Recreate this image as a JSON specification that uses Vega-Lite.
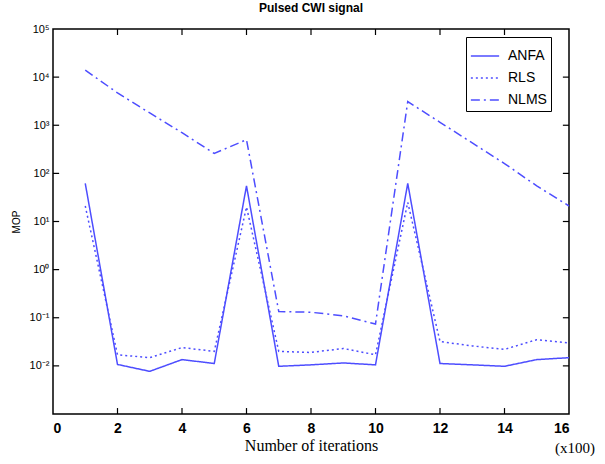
{
  "$schema": "https://vega.github.io/schema/vega-lite/v6.json",
  "width": 516,
  "height": 385,
  "autosize": {"type": "none"},
  "padding": {"left": 53, "top": 29, "right": 36, "bottom": 50},
  "background": "white",
  "title": {"text": "Pulsed CWI signal", "font": "Liberation Sans", "fontSize": 12, "fontWeight": "bold", "offset": 8, "anchor": "middle", "color": "black"},
  "config": {"view": {"stroke": "black", "strokeWidth": 1.5}},
  "datasets": {
    "d": [
      {"it": 1, "s": "ANFA", "v": 62}, {"it": 2, "s": "ANFA", "v": 0.0107}, {"it": 3, "s": "ANFA", "v": 0.0077}, {"it": 4, "s": "ANFA", "v": 0.0135}, {"it": 5, "s": "ANFA", "v": 0.0112}, {"it": 6, "s": "ANFA", "v": 55}, {"it": 7, "s": "ANFA", "v": 0.0098}, {"it": 8, "s": "ANFA", "v": 0.0105}, {"it": 9, "s": "ANFA", "v": 0.0115}, {"it": 10, "s": "ANFA", "v": 0.0105}, {"it": 11, "s": "ANFA", "v": 62}, {"it": 12, "s": "ANFA", "v": 0.0112}, {"it": 13, "s": "ANFA", "v": 0.0105}, {"it": 14, "s": "ANFA", "v": 0.0098}, {"it": 15, "s": "ANFA", "v": 0.0135}, {"it": 16, "s": "ANFA", "v": 0.0148},
      {"it": 1, "s": "RLS", "v": 21}, {"it": 2, "s": "RLS", "v": 0.017}, {"it": 3, "s": "RLS", "v": 0.0148}, {"it": 4, "s": "RLS", "v": 0.024}, {"it": 5, "s": "RLS", "v": 0.02}, {"it": 6, "s": "RLS", "v": 20}, {"it": 7, "s": "RLS", "v": 0.02}, {"it": 8, "s": "RLS", "v": 0.019}, {"it": 9, "s": "RLS", "v": 0.023}, {"it": 10, "s": "RLS", "v": 0.017}, {"it": 11, "s": "RLS", "v": 25}, {"it": 12, "s": "RLS", "v": 0.032}, {"it": 13, "s": "RLS", "v": 0.026}, {"it": 14, "s": "RLS", "v": 0.022}, {"it": 15, "s": "RLS", "v": 0.035}, {"it": 16, "s": "RLS", "v": 0.03},
      {"it": 1, "s": "NLMS", "v": 14000}, {"it": 2, "s": "NLMS", "v": 4700}, {"it": 3, "s": "NLMS", "v": 1800}, {"it": 4, "s": "NLMS", "v": 700}, {"it": 5, "s": "NLMS", "v": 260}, {"it": 6, "s": "NLMS", "v": 500}, {"it": 7, "s": "NLMS", "v": 0.135}, {"it": 8, "s": "NLMS", "v": 0.13}, {"it": 9, "s": "NLMS", "v": 0.11}, {"it": 10, "s": "NLMS", "v": 0.074}, {"it": 11, "s": "NLMS", "v": 3100}, {"it": 12, "s": "NLMS", "v": 1150}, {"it": 13, "s": "NLMS", "v": 430}, {"it": 14, "s": "NLMS", "v": 160}, {"it": 15, "s": "NLMS", "v": 55}, {"it": 16, "s": "NLMS", "v": 21}
    ],
    "xt": [{"t": 2}, {"t": 4}, {"t": 6}, {"t": 8}, {"t": 10}, {"t": 12}, {"t": 14}],
    "yt": [{"t": 0.01}, {"t": 0.1}, {"t": 1}, {"t": 10}, {"t": 100}, {"t": 1000}, {"t": 10000}],
    "note": [{"t": "(x100)"}]
  },
  "layer": [
    {
      "data": {"name": "d"},
      "mark": {"type": "line", "strokeWidth": 1.5, "color": "#4d4dff"},
      "encoding": {
        "x": {"field": "it", "type": "quantitative", "scale": {"domain": [0, 16], "nice": false},
          "axis": {"orient": "bottom", "domain": false, "ticks": false, "title": "Number of iterations", "titleFont": "Liberation Serif", "titleFontSize": 16, "titleFontWeight": "normal", "titleColor": "black", "titlePadding": 2,
            "values": [0, 2, 4, 6, 8, 10, 12, 14, 16], "labelFont": "Liberation Sans", "labelFontSize": 14, "labelFontWeight": "bold", "labelColor": "black", "labelPadding": 7, "grid": false}},
        "y": {"field": "v", "type": "quantitative", "scale": {"type": "log", "domain": [0.001, 100000], "nice": false},
          "axis": {"orient": "left", "domain": false, "ticks": false, "title": "MOP", "titleFont": "Liberation Sans", "titleFontSize": 10, "titleFontWeight": "normal", "titleColor": "black", "titlePadding": 8,
            "values": [0.001, 0.01, 0.1, 1, 10, 100, 1000, 10000, 100000],
            "labelExpr": "datum.value < 0.005 ? '' : datum.value == 0.01 ? '10⁻²' : datum.value == 0.1 ? '10⁻¹' : datum.value == 1 ? '10⁰' : datum.value == 10 ? '10¹' : datum.value == 100 ? '10²' : datum.value == 1000 ? '10³' : datum.value == 10000 ? '10⁴' : '10⁵'",
            "labelFont": "Liberation Sans", "labelFontSize": 11, "labelColor": "black", "labelPadding": 4, "grid": false}},
        "strokeDash": {"field": "s", "type": "nominal", "scale": {"domain": ["ANFA", "RLS", "NLMS"], "range": [[1, 0], [2, 3], [9, 4, 2, 4]]},
          "legend": {"title": null, "orient": "none", "legendX": 413, "legendY": 8, "symbolType": "stroke", "symbolStrokeColor": "#4d4dff", "symbolStrokeWidth": 1.5, "symbolSize": 800,
            "labelFont": "Liberation Sans", "labelFontSize": 14, "labelColor": "black", "rowPadding": -12, "labelOffset": 8, "strokeColor": "black", "fillColor": "white", "padding": 4}}
      }
    },
    {
      "data": {"name": "xt"},
      "mark": {"type": "rule", "color": "black", "strokeWidth": 1.2},
      "encoding": {"x": {"field": "t", "type": "quantitative"}, "y": {"datum": 0.001}, "y2": {"datum": 0.00133}}
    },
    {
      "data": {"name": "xt"},
      "mark": {"type": "rule", "color": "black", "strokeWidth": 1.2},
      "encoding": {"x": {"field": "t", "type": "quantitative"}, "y": {"datum": 100000}, "y2": {"datum": 75000}}
    },
    {
      "data": {"name": "yt"},
      "mark": {"type": "rule", "color": "black", "strokeWidth": 1.2},
      "encoding": {"y": {"field": "t", "type": "quantitative"}, "x": {"datum": 0}, "x2": {"datum": 0.19}}
    },
    {
      "data": {"name": "yt"},
      "mark": {"type": "rule", "color": "black", "strokeWidth": 1.2},
      "encoding": {"y": {"field": "t", "type": "quantitative"}, "x": {"datum": 16}, "x2": {"datum": 15.81}}
    },
    {
      "data": {"name": "note"},
      "mark": {"type": "text", "font": "Liberation Serif", "fontSize": 15, "align": "center", "baseline": "middle", "dy": 34, "dx": 6, "color": "black"},
      "encoding": {"x": {"datum": 16}, "y": {"datum": 0.001}, "text": {"field": "t"}}
    }
  ]
}
